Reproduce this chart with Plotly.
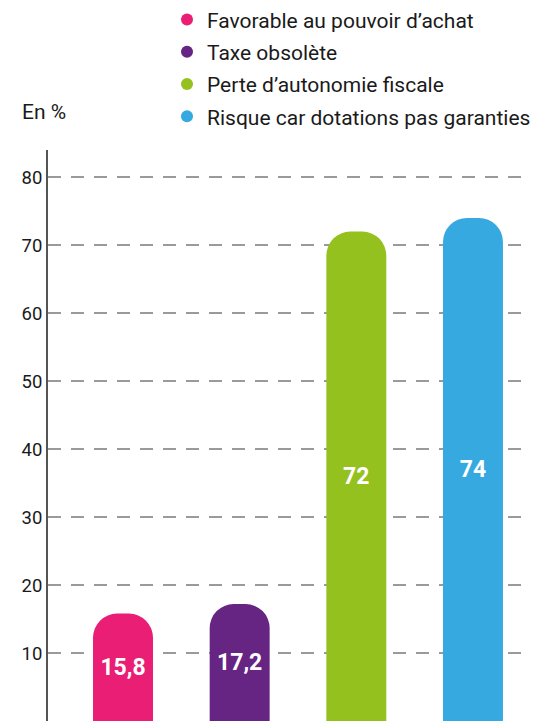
import plotly.graph_objects as go

categories = ["Favorable au pouvoir d’achat", "Taxe obsolète",
              "Perte d’autonomie fiscale", "Risque car dotations pas garanties"]
values = [15.8, 17.2, 72, 74]
colors = ["#E91E74", "#662483", "#95C11F", "#36A9E1"]
tick_vals = [10, 20, 30, 40, 50, 60, 70, 80]

labels = [str(v).replace(".", ",") for v in values]
xs = list(range(len(categories)))

fig = go.Figure()
fig.add_trace(go.Bar(
    x=xs, y=values, marker=dict(color=colors, cornerradius=24, line=dict(width=0)),
    width=0.514, text=labels, textposition="inside", insidetextanchor="middle",
    textfont=dict(color="white", size=23, family="Roboto", weight="bold"),
    showlegend=False, hoverinfo="skip",
))
for i, (c, col) in enumerate(zip(categories, colors)):
    fig.add_trace(go.Scatter(
        x=[None], y=[None], mode="markers", name=c, legendgroup=f"g{i}",
        marker=dict(symbol="circle", size=14, color=col),
    ))

fig.update_layout(
    width=539, height=723,
    margin=dict(l=40, r=8, t=142, b=10, autoexpand=False),
    plot_bgcolor="white", paper_bgcolor="white",
    font=dict(family="Roboto", color="#1a1a1a"),
    legend=dict(
        xref="container", yref="paper", x=0.295, y=1.264,
        xanchor="left", yanchor="top",
        font=dict(size=21, color="#1a1a1a"),
        tracegroupgap=2, itemsizing="constant",
        bgcolor="rgba(0,0,0,0)",
    ),
    xaxis=dict(range=[-0.643, 3.566], showticklabels=False, showgrid=False,
               zeroline=False, showline=False),
    yaxis=dict(range=[0, 84], tickvals=tick_vals, showgrid=True,
               gridcolor="#9a9a9a", griddash="13px,10px", gridwidth=2,
               zeroline=False, showline=True, linecolor="#555555", linewidth=2,
               tickfont=dict(size=18.5, color="#1a1a1a"), ticks="", ticklabelstandoff=0),
    annotations=[dict(text="En %", xref="paper", yref="paper", x=-0.008, y=1.066,
                      xanchor="center", yanchor="middle", showarrow=False,
                      font=dict(size=21, color="#1a1a1a"))],
)
fig.write_html("out.html")
